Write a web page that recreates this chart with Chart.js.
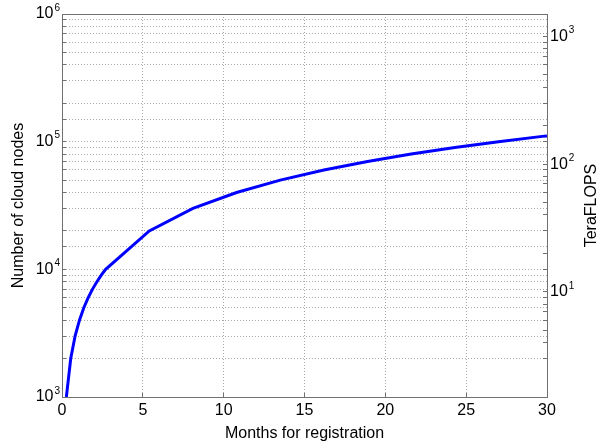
<!DOCTYPE html>
<html>
<head>
<meta charset="utf-8">
<script src="https://cdn.jsdelivr.net/npm/chart.js@4/dist/chart.umd.min.js"></script>
<style>
  html, body { margin: 0; padding: 0; background: #fff; }
  #wrap { width: 608px; height: 448px; }
</style>
</head>
<body>
<div id="wrap"><canvas id="growthChart" width="608" height="448"></canvas></div>
<script>
// values
const months = [0.27, 0.54, 0.81, 1.08, 1.35, 1.62, 1.89, 2.16, 2.43, 2.7,
                5.4, 8.1, 10.8, 13.5, 16.2, 18.9, 21.6, 24.3, 27.0, 29.7, 30];
const cloudNodes = [1000, 2000, 3000, 4000, 5000, 6000, 7000, 8000, 9000, 10000,
                    20000, 30000, 40000, 50000, 60000, 70000, 80000, 90000, 100000, 110000, 111000];

const monthTicks = [0, 5, 10, 15, 20, 25, 30];
const nodeTicks = [1e3, 1e4, 1e5, 1e6];
const nodeTickExps = ['3', '4', '5', '6'];
const flopsTicks = [10, 100, 1000];
const flopsTickExps = ['1', '2', '3'];
const flopsRange = [1.5, 1500]; // right axis spans the same decades as the left one

const font = "'Liberation Sans', Arial, Helvetica, sans-serif";
const axisGray = '#707070';
const gridGray = '#a9a9a9';

const points = months.map((m, i) => ({ x: m, y: cloudNodes[i] }));

// matlab style "10^n" labels and the right-hand title (reads bottom to top)
const powerLabels = {
  id: 'powerLabels',
  afterDraw(chart) {
    const ctx = chart.ctx;
    const left = chart.scales.y, right = chart.scales.y2;
    ctx.save();
    ctx.fillStyle = '#000';
    ctx.textBaseline = 'middle';
    ctx.textAlign = 'left';

    nodeTicks.forEach((v, i) => {
      const py = left.getPixelForValue(v);
      ctx.font = '16px ' + font;
      const bw = ctx.measureText('10').width;
      ctx.font = '10px ' + font;
      const ew = ctx.measureText(nodeTickExps[i]).width;
      const end = left.right - 2;
      ctx.font = '16px ' + font;
      ctx.fillText('10', end - ew - 1 - bw, py);
      ctx.font = '10px ' + font;
      ctx.fillText(nodeTickExps[i], end - ew, py - 6);
    });

    flopsTicks.forEach((v, i) => {
      const py = right.getPixelForValue(v);
      const start = right.left + 3;
      ctx.font = '16px ' + font;
      const bw = ctx.measureText('10').width;
      ctx.fillText('10', start, py);
      ctx.font = '10px ' + font;
      ctx.fillText(flopsTickExps[i], start + bw + 1, py - 6);
    });

    ctx.font = '16px ' + font;
    ctx.textAlign = 'center';
    ctx.translate(right.right - 16, (right.top + right.bottom) / 2);
    ctx.rotate(-Math.PI / 2);
    ctx.fillText('TeraFLOPS', 0, 0);
    ctx.restore();
  }
};

new Chart(document.getElementById('growthChart').getContext('2d'), {
  type: 'line',
  data: {
    datasets: [{
      data: points,
      borderColor: '#0000ff',
      borderWidth: 3,
      pointRadius: 0,
      tension: 0,
      fill: false,
      yAxisID: 'y'
    }]
  },
  options: {
    responsive: false,
    animation: false,
    layout: { padding: { top: 14, left: 0, right: 0, bottom: 0 } },
    plugins: { legend: { display: false }, tooltip: { enabled: false } },
    scales: {
      x: {
        type: 'linear',
        position: 'bottom',
        min: 0, max: 30,
        afterBuildTicks: s => { s.ticks = monthTicks.map(v => ({ value: v })); },
        afterFit: s => { s.height = 51; },
        ticks: { color: '#000', font: { family: font, size: 16 }, padding: 8, maxRotation: 0 },
        grid: { color: gridGray, tickColor: axisGray, tickLength: -4, tickBorderDash: [] },
        border: { color: axisGray, dash: [1, 2] },
        title: { display: true, text: 'Months for registration', color: '#000',
                 font: { family: font, size: 16 }, padding: { top: 0, bottom: 5 } }
      },
      xTop: {
        type: 'linear',
        position: 'top',
        min: 0, max: 30,
        afterFit: s => { s.height = 0; },
        ticks: { display: false },
        grid: { drawOnChartArea: false, drawTicks: false },
        border: { color: axisGray }
      },
      y: {
        type: 'logarithmic',
        position: 'left',
        min: 1e3, max: 1e6,
        afterFit: s => { s.width = 62; },
        ticks: { display: false, autoSkip: false },
        grid: { color: gridGray, tickColor: axisGray, tickLength: -4, tickBorderDash: [] },
        border: { color: axisGray, dash: [1, 2] },
        title: { display: true, text: 'Number of cloud nodes', color: '#000',
                 font: { family: font, size: 16 }, padding: { top: 9, bottom: 0 } }
      },
      y2: {
        type: 'logarithmic',
        position: 'right',
        min: flopsRange[0], max: flopsRange[1],
        afterFit: s => { s.width = 61; },
        ticks: { display: false, autoSkip: false },
        grid: { drawOnChartArea: false, tickColor: axisGray, tickLength: -4 },
        border: { color: axisGray }
      }
    }
  },
  plugins: [powerLabels]
});
</script>
</body>
</html>
